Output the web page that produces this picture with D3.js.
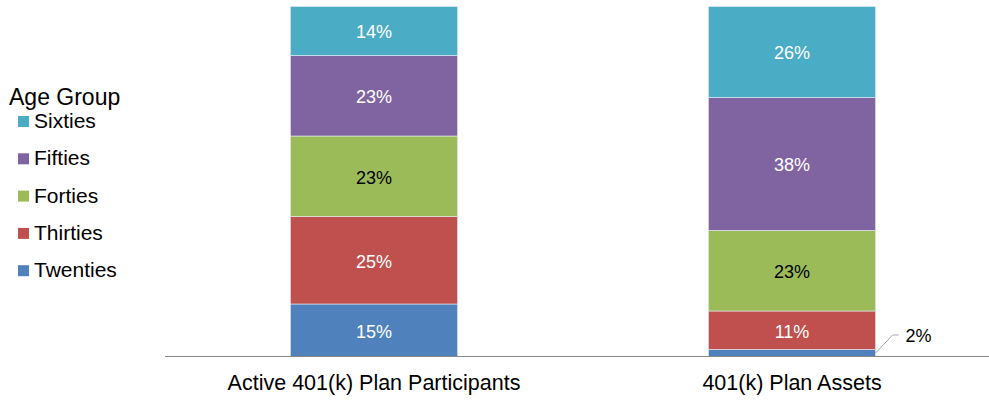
<!DOCTYPE html>
<html><head><meta charset="utf-8">
<script src="https://cdn.jsdelivr.net/npm/d3@7"></script>
<style>body{margin:0;background:#fff}svg{display:block;font-family:"Liberation Sans",Arial,sans-serif}</style>
</head><body><svg id="c" width="989" height="401"></svg>
<script>
const categories = ["Active 401(k) Plan Participants", "401(k) Plan Assets"];
const groups = ["Twenties", "Thirties", "Forties", "Fifties", "Sixties"];
const twenties = [15, 2];
const thirties = [25, 11];
const forties = [23, 23];
const fifties = [23, 38];
const sixties = [14, 26];
const colors = ["#4F81BD", "#C0504D", "#9BBB59", "#8064A2", "#4BACC6"];
const labelColors = ["#fff", "#fff", "#000", "#fff", "#fff"];

const series = [twenties, thirties, forties, fifties, sixties];
const table = categories.map((c, i) => {
  const o = {cat: c};
  groups.forEach((g, j) => o[g] = series[j][i]);
  return o;
});
const stacked = d3.stack().keys(groups)(table);

const svg = d3.select("#c");
const baseY = 356.5, topY = 6.5;
const x = d3.scaleBand().domain(categories).range([165, 1001]).paddingInner(0.6).paddingOuter(0.3);
const y = d3.scaleLinear().domain([0, 100]).range([baseY, topY]);

stacked.forEach((s, j) => {
  const g = svg.append("g");
  g.selectAll("rect").data(s).join("rect")
    .attr("x", d => x(d.data.cat))
    .attr("width", x.bandwidth())
    .attr("y", d => y(d[1]))
    .attr("height", d => y(d[0]) - y(d[1]))
    .attr("fill", colors[j])
    .attr("stroke", "#e8eef6").attr("stroke-width", 0.6);
  g.selectAll("text").data(s.filter(d => d[1] - d[0] >= 5)).join("text")
    .attr("x", d => x(d.data.cat) + x.bandwidth() / 2)
    .attr("y", d => (y(d[0]) + y(d[1])) / 2 + 1)
    .attr("dy", "0.35em")
    .attr("text-anchor", "middle")
    .attr("font-size", 18)
    .attr("fill", labelColors[j])
    .text(d => (d[1] - d[0]) + "%");
});

// small segment callout
stacked.forEach((s, j) => {
  s.filter(d => d[1] - d[0] < 5).forEach(d => {
    const x1 = x(d.data.cat) + x.bandwidth();
    const ym = (y(d[0]) + y(d[1])) / 2;
    svg.append("path")
      .attr("d", `M${x1},${ym} L${x1 + 17},${ym - 18} L${x1 + 23},${ym - 18}`)
      .attr("fill", "none").attr("stroke", "#a6a6a6").attr("stroke-width", 1);
    svg.append("text").attr("x", x1 + 30).attr("y", ym - 17).attr("dy", "0.35em")
      .attr("font-size", 18).attr("fill", "#000").text((d[1] - d[0]) + "%");
  });
});

// axis
const ax = svg.append("g").attr("transform", `translate(0,${baseY})`)
  .call(d3.axisBottom(x).tickSize(0).tickPadding(18));
ax.select(".domain").remove();
ax.selectAll("text").attr("font-size", 21.5).attr("fill", "#000").attr("font-family", "Liberation Sans, Arial, sans-serif");
svg.append("line").attr("x1", 165).attr("x2", 989).attr("y1", baseY).attr("y2", baseY)
  .attr("stroke", "#898989").attr("stroke-width", 1);

// legend
const leg = svg.append("g");
leg.append("text").attr("x", 9).attr("y", 104.5).attr("font-size", 23).attr("fill", "#000").text("Age Group");
const order = groups.slice().reverse();
order.forEach((g, i) => {
  const j = groups.indexOf(g);
  const yy = 128 + i * 37.3;
  leg.append("rect").attr("x", 18).attr("y", yy - 12).attr("width", 11).attr("height", 11).attr("fill", colors[j]);
  leg.append("text").attr("x", 34).attr("y", yy).attr("font-size", 21).attr("fill", "#000").text(g);
});
</script></body></html>
